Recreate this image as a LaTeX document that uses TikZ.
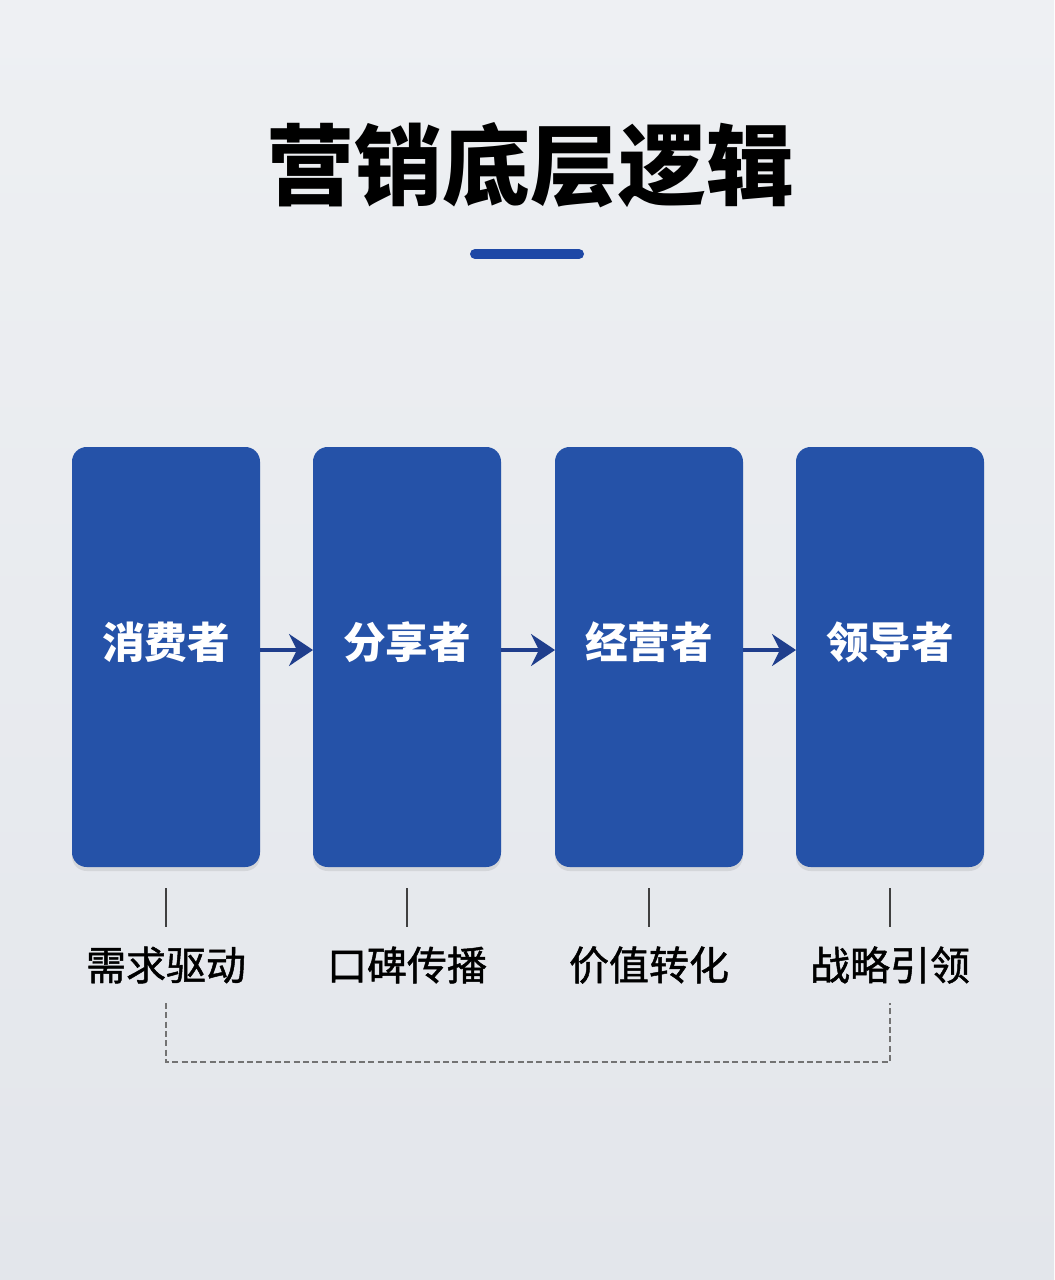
\documentclass[tikz,border=0pt]{standalone}
\usepackage{fontspec}
\setmainfont{Noto Sans CJK SC}
\newfontfamily\tagfont{Noto Sans CJK SC}[FakeBold=1.2]
\usetikzlibrary{arrows.meta, positioning, calc, shadows}
\definecolor{cardblue}{HTML}{2552A8}
\definecolor{arrowblue}{HTML}{1F3E8C}
\definecolor{barblue}{HTML}{1E48A6}
\definecolor{bgtop}{HTML}{EEF0F3}
\definecolor{bgbot}{HTML}{E3E6EB}
\tikzset{
    card/.style={rectangle, rounded corners=11pt, outer sep=0pt, minimum width=141pt, minimum height=315pt, fill=cardblue, drop shadow={opacity=0.18, shadow xshift=0pt, shadow yshift=-3pt}},
    cardtext/.style={text=white, font=\bfseries\fontsize{32}{36}\selectfont},
    arrow/.style={line width=2.6pt, draw=arrowblue, -{Stealth[length=18pt, width=24pt, inset=6pt]}},
    tag/.style={text=black, font=\tagfont\fontsize{30}{34}\selectfont},
    tick/.style={line width=0.9pt, draw=black!75},
    loopline/.style={line width=0.9pt, dash pattern=on 4.5pt off 2.5pt, draw=black!55}
}

\begin{document}
\begin{tikzpicture}[x=0.75pt, y=-0.75pt]
    % background
    \shade[top color=bgtop, bottom color=bgbot] (0,0) rectangle (1054,1280);
    \useasboundingbox (0,0) rectangle (1054,1280);

    % title
    \node (title) at (530,165) {\bfseries\fontsize{66}{70}\selectfont 营销底层逻辑};
    \draw [line width=7.5pt, line cap=round, draw=barblue] (475,254) -- (579,254);

    % cards
    \node (c1) [card] at (166,657) {};
    \node (c2) [card, right=39.75pt of c1] {};
    \node (c3) [card, right=40.5pt of c2] {};
    \node (c4) [card, right=39.75pt of c3] {};

    \node (n1) [cardtext] at ($(c1.center)+(0,-15)$) {消费者};
    \node (n2) [cardtext] at ($(c2.center)+(0,-15)$) {分享者};
    \node (n3) [cardtext] at ($(c3.center)+(0,-15)$) {经营者};
    \node (n4) [cardtext] at ($(c4.center)+(0,-15)$) {领导者};

    \draw [arrow] ($(c1.east)+(0,-7)$) -- ($(c2.west)+(0,-7)$);
    \draw [arrow] ($(c2.east)+(0,-7)$) -- ($(c3.west)+(0,-7)$);
    \draw [arrow] ($(c3.east)+(0,-7)$) -- ($(c4.west)+(0,-7)$);

    % ticks and tags
    \foreach \i/\txt in {1/需求驱动, 2/口碑传播, 3/价值转化, 4/战略引领} {
        \coordinate (k\i a) at ($(c\i.south)+(0,21)$);
        \coordinate (k\i b) at ($(c\i.south)+(0,60)$);
        \draw [tick] (k\i a) -- (k\i b);
        \node (t\i) [tag] at ($(c\i.south)+(0,98)$) {\txt};
    }

    % dashed return line
    \coordinate (d1) at ($(c1.south)+(0,136)$);
    \coordinate (d4) at ($(c4.south)+(0,136)$);
    \draw [loopline] (d1) -- ++(0,59) -| (d4);
\end{tikzpicture}
\end{document}
